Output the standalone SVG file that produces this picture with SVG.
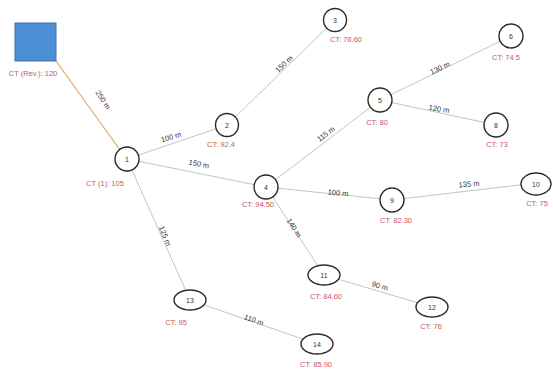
<svg xmlns="http://www.w3.org/2000/svg" width="553" height="374" viewBox="0 0 553 374">
  <style>
    .edge { stroke: #b9c9c9; stroke-width: 1; fill: none; }
    .feed { stroke: #e0a868; stroke-width: 1.2; fill: none; }
    .node { fill: #ffffff; stroke: #2a2a2a; stroke-width: 1.4; }
    .id { font-family: "Liberation Sans", Arial, sans-serif; font-size: 7px; fill: #333; text-anchor: middle; dominant-baseline: central; }
    .ct { font-family: "Liberation Sans", Arial, sans-serif; font-size: 7.5px; fill: #c65a58; text-anchor: middle; }
    .len { font-family: "Liberation Sans", Arial, sans-serif; font-size: 7.5px; fill: #333; text-anchor: middle; dominant-baseline: central; }
  </style>
  <rect width="553" height="374" fill="#ffffff"/>

  <!-- pipes -->
  <g id="connectors">
    <line class="feed" x1="56" y1="61" x2="120" y2="150"/>
    <line class="edge" x1="127" y1="159" x2="227" y2="125"/>
    <line class="edge" x1="127" y1="159" x2="266" y2="187"/>
    <line class="edge" x1="127" y1="159" x2="190" y2="300"/>
    <line class="edge" x1="227" y1="125" x2="335" y2="20"/>
    <line class="edge" x1="266" y1="187" x2="380" y2="100"/>
    <line class="edge" x1="380" y1="100" x2="511" y2="36"/>
    <line class="edge" x1="380" y1="100" x2="496" y2="125"/>
    <line class="edge" x1="266" y1="187" x2="392" y2="200"/>
    <line class="edge" x1="392" y1="200" x2="536" y2="183"/>
    <line class="edge" x1="266" y1="187" x2="324" y2="275"/>
    <line class="edge" x1="324" y1="275" x2="432" y2="307"/>
    <line class="edge" x1="190" y1="300" x2="317" y2="344"/>

    <text class="len" transform="translate(103,100) rotate(57)">250 m</text>
    <text class="len" transform="translate(171,137) rotate(-17)">100 m</text>
    <text class="len" transform="translate(199,164) rotate(11)">150 m</text>
    <text class="len" transform="translate(165,236) rotate(68)">125 m</text>
    <text class="len" transform="translate(284,64) rotate(-44)">150 m</text>
    <text class="len" transform="translate(326,134) rotate(-37)">115 m</text>
    <text class="len" transform="translate(440,68) rotate(-25)">130 m</text>
    <text class="len" transform="translate(439,109) rotate(9)">120 m</text>
    <text class="len" transform="translate(338,193) rotate(5)">100 m</text>
    <text class="len" transform="translate(469,184) rotate(-5)">135 m</text>
    <text class="len" transform="translate(294,228) rotate(57)">140 m</text>
    <text class="len" transform="translate(380,286) rotate(16)">90 m</text>
    <text class="len" transform="translate(254,320) rotate(19)">110 m</text>
  </g>

  <!-- reservoir -->
  <g id="reservoir">
    <rect x="15" y="23" width="41" height="38" fill="#4b8fd5" stroke="#3e74ad" stroke-width="1"/>
    <text class="ct" x="33" y="76">CT (Rev.): 120</text>
  </g>

  <!-- junctions -->
  <g id="n1"><circle class="node" cx="127" cy="159" r="12"/><text class="id" x="127" y="159">1</text><text class="ct" x="105" y="186">CT (1): 105</text></g>
  <g id="n2"><circle class="node" cx="227" cy="125" r="11.5"/><text class="id" x="227" y="125">2</text><text class="ct" x="221" y="147">CT: 92.4</text></g>
  <g id="n3"><circle class="node" cx="335" cy="20" r="11.5"/><text class="id" x="335" y="20">3</text><text class="ct" x="346" y="42">CT: 76.60</text></g>
  <g id="n4"><circle class="node" cx="266" cy="187" r="12"/><text class="id" x="266" y="187">4</text><text class="ct" x="258" y="207">CT: 94.50</text></g>
  <g id="n5"><circle class="node" cx="380" cy="100" r="12"/><text class="id" x="380" y="100">5</text><text class="ct" x="377" y="125">CT: 80</text></g>
  <g id="n6"><circle class="node" cx="511" cy="36" r="12"/><text class="id" x="511" y="36">6</text><text class="ct" x="506" y="60">CT: 74.5</text></g>
  <g id="n8"><circle class="node" cx="496" cy="125" r="12"/><text class="id" x="496" y="125">8</text><text class="ct" x="497" y="147">CT: 73</text></g>
  <g id="n9"><circle class="node" cx="392" cy="200" r="12"/><text class="id" x="392" y="200">9</text><text class="ct" x="396" y="223">CT: 82.30</text></g>
  <g id="n10"><ellipse class="node" cx="536" cy="184" rx="15" ry="11"/><text class="id" x="536" y="184">10</text><text class="ct" x="537" y="206">CT: 75</text></g>
  <g id="n11"><ellipse class="node" cx="324" cy="275" rx="16" ry="10"/><text class="id" x="324" y="275">11</text><text class="ct" x="326" y="299">CT: 84.60</text></g>
  <g id="n12"><ellipse class="node" cx="432" cy="307" rx="16" ry="10"/><text class="id" x="432" y="307">12</text><text class="ct" x="431" y="329">CT: 76</text></g>
  <g id="n13"><ellipse class="node" cx="190" cy="300" rx="16" ry="10"/><text class="id" x="190" y="300">13</text><text class="ct" x="176" y="325">CT: 95</text></g>
  <g id="n14"><ellipse class="node" cx="317" cy="344" rx="16" ry="10"/><text class="id" x="317" y="344">14</text><text class="ct" x="316" y="367">CT: 85.90</text></g>
</svg>
